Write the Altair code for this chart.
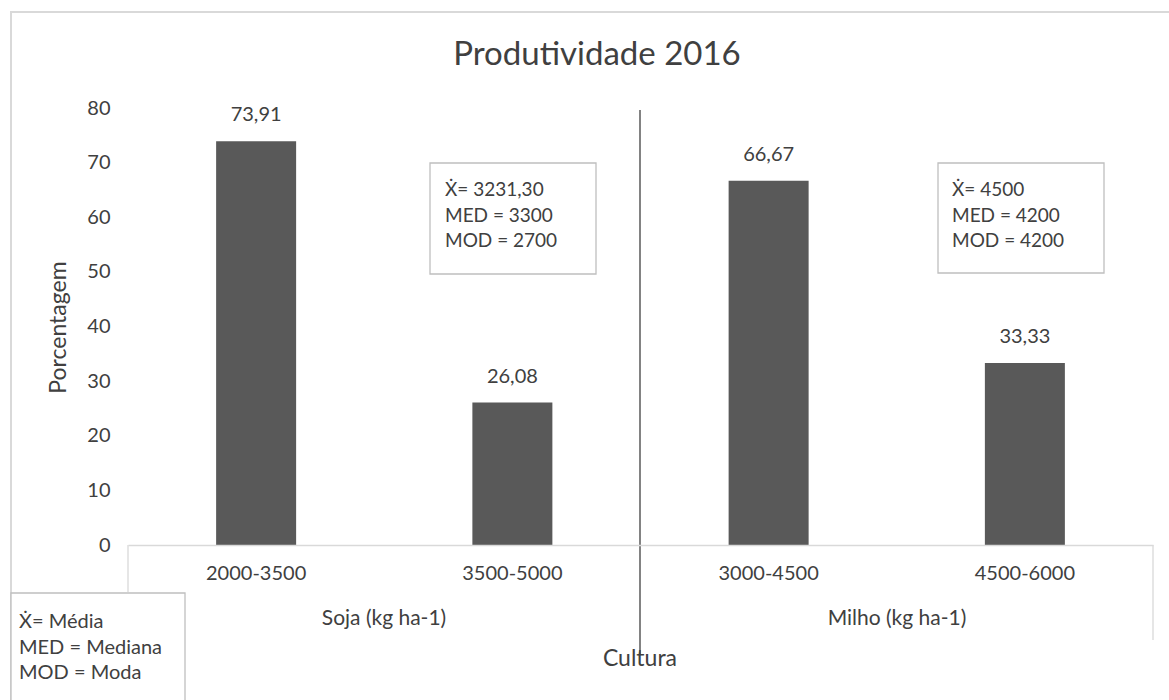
import altair as alt
import pandas as pd

# ---- data ----
faixas = ["2000-3500", "3500-5000", "3000-4500", "4500-6000"]
porcentagem = [73.91, 26.08, 66.67, 33.33]
culturas = ["Soja (kg ha-1)", "Milho (kg ha-1)"]
soja_stats = ["Ẋ= 3231,30", "MED = 3300", "MOD = 2700"]
milho_stats = ["Ẋ= 4500", "MED = 4200", "MOD = 4200"]
legenda = ["Ẋ= Média", "MED = Mediana", "MOD = Moda"]
titulo = "Produtividade 2016"

FONT = "Lato"
TXT = "#404040"
W, H = 1025, 437

bars_df = pd.DataFrame({
    "faixa": faixas,
    "pct": porcentagem,
    "label": [f"{v:.2f}".replace(".", ",") for v in porcentagem],
})

base = alt.Chart(bars_df).encode(
    x=alt.X("faixa:N", sort=faixas, title=None,
            scale=alt.Scale(paddingInner=0.6875, paddingOuter=0.34375),
            axis=alt.Axis(orient="bottom", zindex=1, labelAngle=0, labelFontSize=20,
                          labelFont=FONT, labelColor=TXT, labelPadding=18, ticks=False,
                          labelFontWeight="normal",
                          domainColor="#d9d9d9", domainWidth=1.5)),
    y=alt.Y("pct:Q", title="Porcentagem",
            scale=alt.Scale(domain=[0, 80], nice=False),
            axis=alt.Axis(orient="left", zindex=1, values=list(range(0, 81, 10)),
                          grid=False, domain=False, ticks=False, labelPadding=18,
                          labelFontSize=20, labelFont=FONT, labelColor=TXT,
                          labelFontWeight="normal",
                          titleFont=FONT, titleFontSize=23, titleFontWeight="normal",
                          titleColor=TXT, titleAngle=-90, titleX=-70, titleY=219,
                          titleAlign="center", titleBaseline="middle")),
)

bars = base.mark_bar(color="#595959", size=80)
bar_labels = base.mark_text(dy=-26, fontSize=20, font=FONT, color=TXT).encode(
    text="label:N")
bar_layer = alt.layer(bars, bar_labels)

# ---- annotation geometry (pixel space) ----
def px(field):
    return alt.X(f"{field}:Q", scale=None, axis=None)

def py(field):
    return alt.Y(f"{field}:Q", scale=None, axis=None)

border_df = pd.DataFrame({"x": [-117], "y": [-96], "x2": [1100], "y2": [700]})
border = alt.Chart(border_df).mark_rect(fillOpacity=0, stroke="#d9d9d9", strokeWidth=2).encode(
    x=px("x"), y=py("y"), x2="x2:Q", y2="y2:Q")

rules_df = pd.DataFrame({
    "x": [512, 0, W],
    "y": [2, H, H],
    "y2": [547, 484, 532],
    "c": ["#404040", "#d9d9d9", "#d9d9d9"],
})
rules = alt.Chart(rules_df).mark_rule(strokeWidth=1.3).encode(
    x=px("x"), y=py("y"), y2="y2:Q", color=alt.Color("c:N", scale=None))

boxes_df = pd.DataFrame({
    "x": [302, 810, -117],
    "x2": [468, 976, 57],
    "y": [55, 55, 485],
    "y2": [166, 165, 640],
})
boxes = alt.Chart(boxes_df).mark_rect(fill="white", stroke="#bfbfbf", strokeWidth=1.3).encode(
    x=px("x"), x2="x2:Q", y=py("y"), y2="y2:Q")

line_y = [82, 108, 133]
leg_y = [514, 540, 565]
stat_rows = []
for t, yy in zip(soja_stats, line_y):
    stat_rows.append({"t": t, "x": 317, "y": yy})
for t, yy in zip(milho_stats, line_y):
    stat_rows.append({"t": t, "x": 824, "y": yy})
stats_txt = alt.Chart(pd.DataFrame(stat_rows)).mark_text(
    align="left", baseline="middle", fontSize=19, font=FONT, color=TXT).encode(
    x=px("x"), y=py("y"), text="t:N")

leg_df = pd.DataFrame({"t": legenda, "x": [-109] * 3, "y": leg_y})
leg_txt = alt.Chart(leg_df).mark_text(
    align="left", baseline="middle", fontSize=20, font=FONT, color=TXT).encode(
    x=px("x"), y=py("y"), text="t:N")

grp_df = pd.DataFrame({"t": culturas, "x": [256, 769], "y": [511, 511]})
grp = alt.Chart(grp_df).mark_text(align="center", baseline="middle", fontSize=21,
                                   font=FONT, color=TXT).encode(
    x=px("x"), y=py("y"), text="t:N")

xt_df = pd.DataFrame({"t": ["Cultura"], "x": [512], "y": [551]})
xtitle = alt.Chart(xt_df).mark_text(align="center", baseline="middle", fontSize=23,
                                     font=FONT, color=TXT).encode(
    x=px("x"), y=py("y"), text="t:N")

title_df = pd.DataFrame({"t": [titulo], "x": [469], "y": [-53]})
title = alt.Chart(title_df).mark_text(align="center", baseline="middle", fontSize=33,
                                       font=FONT, color=TXT).encode(
    x=px("x"), y=py("y"), text="t:N")

chart = alt.layer(border, bar_layer, rules, boxes, stats_txt, leg_txt, grp,
                  xtitle, title).resolve_scale(
    x="independent", y="independent"
).properties(
    width=W, height=H,
    autosize=alt.AutoSizeParams(type="none"),
    padding={"left": 128, "top": 108, "right": 16, "bottom": 155},
    background="white",
).configure_view(stroke=None)

chart.save("out.html", embed_options={"renderer": "svg", "actions": False})
